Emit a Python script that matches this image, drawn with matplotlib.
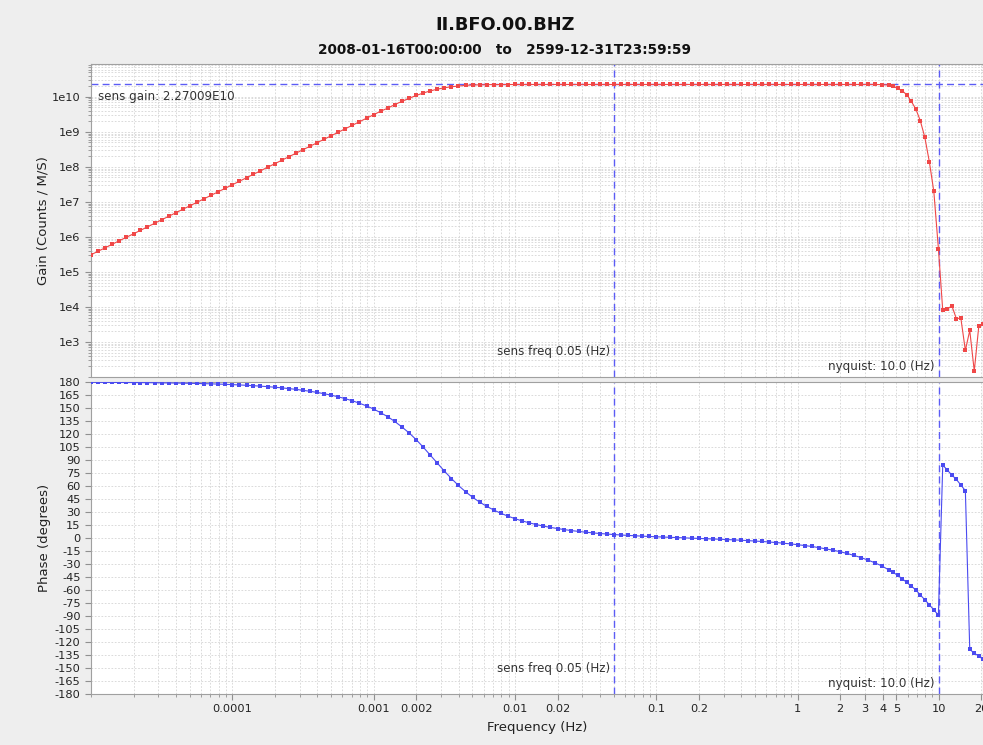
import matplotlib
matplotlib.use("Agg")
import matplotlib.pyplot as plt
from matplotlib.ticker import FixedLocator, FixedFormatter, LogLocator, NullFormatter
import numpy as np

plt.rcParams['font.family'] = ['DejaVu Sans']

# frequencies of the response points (Hz)
freq_hz = [
    1.00e-5, 1.12e-5, 1.26e-5, 1.41e-5, 1.58e-5, 1.78e-5, 2.00e-5, 2.24e-5, 2.51e-5, 2.82e-5,
    3.16e-5, 3.55e-5, 3.98e-5, 4.47e-5, 5.01e-5, 5.62e-5, 6.31e-5, 7.08e-5, 7.94e-5, 8.91e-5,
    1.00e-4, 1.12e-4, 1.26e-4, 1.41e-4, 1.58e-4, 1.78e-4, 2.00e-4, 2.24e-4, 2.51e-4, 2.82e-4,
    3.16e-4, 3.55e-4, 3.98e-4, 4.47e-4, 5.01e-4, 5.62e-4, 6.31e-4, 7.08e-4, 7.94e-4, 8.91e-4,
    1.00e-3, 1.12e-3, 1.26e-3, 1.41e-3, 1.58e-3, 1.78e-3, 2.00e-3, 2.24e-3, 2.51e-3, 2.82e-3,
    3.16e-3, 3.55e-3, 3.98e-3, 4.47e-3, 5.01e-3, 5.62e-3, 6.31e-3, 7.08e-3, 7.94e-3, 8.91e-3,
    1.00e-2, 1.12e-2, 1.26e-2, 1.41e-2, 1.58e-2, 1.78e-2, 2.00e-2, 2.24e-2, 2.51e-2, 2.82e-2,
    3.16e-2, 3.55e-2, 3.98e-2, 4.47e-2, 5.01e-2, 5.62e-2, 6.31e-2, 7.08e-2, 7.94e-2, 8.91e-2,
    1.00e-1, 1.12e-1, 1.26e-1, 1.41e-1, 1.58e-1, 1.78e-1, 2.00e-1, 2.24e-1, 2.51e-1, 2.82e-1,
    3.16e-1, 3.55e-1, 3.98e-1, 4.47e-1, 5.01e-1, 5.62e-1, 6.31e-1, 7.08e-1, 7.94e-1, 8.91e-1,
    1.00, 1.12, 1.26, 1.41, 1.58, 1.78, 2.00, 2.24, 2.51, 2.82, 3.16, 3.55, 3.98,
    4.42, 4.75, 5.12, 5.51, 5.93, 6.38, 6.87, 7.38, 7.94, 8.55, 9.20, 9.91,
    10.64, 11.46, 12.33, 13.27, 14.29, 15.38, 16.52, 17.78, 19.14, 20.4,
]

# log10 of gain (counts / m/s)
gain_log10 = [
    5.49, 5.59, 5.69, 5.79, 5.89, 5.99, 6.09, 6.19, 6.29, 6.39,
    6.49, 6.59, 6.69, 6.79, 6.89, 6.99, 7.09, 7.19, 7.29, 7.39,
    7.49, 7.59, 7.69, 7.79, 7.89, 7.99, 8.09, 8.19, 8.29, 8.39,
    8.49, 8.59, 8.69, 8.79, 8.89, 8.99, 9.09, 9.19, 9.29, 9.39,
    9.49, 9.59, 9.68, 9.78, 9.87, 9.96, 10.04, 10.11, 10.17, 10.22,
    10.26, 10.29, 10.31, 10.33, 10.34, 10.345, 10.35, 10.35, 10.353, 10.354,
    10.355, 10.355, 10.355, 10.355, 10.355, 10.355, 10.355, 10.355, 10.355, 10.355,
    10.355, 10.355, 10.355, 10.355, 10.355, 10.355, 10.355, 10.355, 10.355, 10.355,
    10.356, 10.356, 10.356, 10.356, 10.356, 10.356, 10.356, 10.356, 10.356, 10.356,
    10.356, 10.356, 10.356, 10.356, 10.356, 10.356, 10.356, 10.356, 10.356, 10.356,
    10.356, 10.356, 10.356, 10.356, 10.356, 10.356, 10.356, 10.356, 10.356, 10.356,
    10.356, 10.355, 10.35,
    10.34, 10.30, 10.24, 10.17, 10.06, 9.87, 9.65, 9.32, 8.85, 8.15, 7.30, 5.67,
    3.90, 3.93, 4.04, 3.67, 3.68, 2.76, 3.33, 2.17, 3.45, 3.52,
]

# phase (degrees)
phase_deg = [
    179.70, 179.66, 179.62, 179.58, 179.52, 179.47, 179.40, 179.33, 179.25, 179.15,
    179.05, 178.94, 178.81, 178.66, 178.50, 178.31, 178.11, 177.88, 177.62, 177.33,
    177.00, 176.63, 176.21, 175.75, 175.23, 174.65, 174.00, 173.26, 172.43, 171.51,
    170.47, 169.29, 167.97, 166.48, 164.79, 162.89, 160.72, 158.30, 155.51, 152.37,
    148.75, 144.60, 139.88, 134.47, 128.29, 121.30, 113.47, 104.93, 95.83, 86.53,
    77.35, 68.63, 60.61, 53.40, 47.02, 41.42, 36.53, 32.25, 28.52, 25.25,
    22.30, 19.77, 17.53, 15.56, 13.81, 12.25, 10.87, 9.65, 8.54, 7.57,
    6.68, 5.90, 5.19, 4.55, 3.98, 3.45, 2.98, 2.54, 2.14, 1.75,
    1.41, 1.07, 0.76, 0.45, 0.14, -0.16, -0.46, -0.77, -1.10, -1.43,
    -1.79, -2.16, -2.57, -3.02, -3.49, -4.03, -4.61, -5.26, -5.98, -6.78,
    -7.68, -8.68, -9.80, -11.06, -12.47, -14.07, -15.85, -17.86, -20.14, -22.69,
    -25.59, -28.87, -32.58,
    -36.9, -39.8, -43.2, -47.3, -51.3, -55.7, -60.0, -65.7, -71.2, -77.0, -83.0, -89.0,
    84.2, 78.5, 72.7, 67.7, 61.2, 54.6, -128.4, -133.0, -136.0, -140.0,
]

sens_gain = 2.27009e10
sens_freq = 0.05
nyquist = 10.0

freq_ticks = [0.0001, 0.001, 0.002, 0.01, 0.02, 0.1, 0.2, 1, 2, 3, 4, 5, 10, 20]
freq_labels = ['0.0001', '0.001', '0.002', '0.01', '0.02', '0.1', '0.2',
               '1', '2', '3', '4', '5', '10', '20']
gain_ticks = [1e3, 1e4, 1e5, 1e6, 1e7, 1e8, 1e9, 1e10]
gain_labels = ['1e3', '1e4', '1e5', '1e6', '1e7', '1e8', '1e9', '1e10']
phase_ticks = list(range(-180, 181, 15))

gain = 10 ** np.array(gain_log10)

W, H = 983, 745
fig = plt.figure(figsize=(W / 100, H / 100), dpi=100, facecolor='#eeeeee')
ax1 = fig.add_axes([91 / W, 1 - 377 / H, 892 / W, (377 - 64) / H])
ax2 = fig.add_axes([91 / W, 1 - 694 / H, 892 / W, (694 - 382) / H])

red = '#f04848'
blue = '#4b4bf0'
ref_blue = '#5c5cf5'
grid_kw = dict(color='#d4d4d4', linestyle=(0, (2, 2)), linewidth=0.6)
txt_color = '#333333'

for ax in (ax1, ax2):
    ax.set_xscale('log')
    ax.set_xlim(1e-5, 20.5)
    ax.set_facecolor('white')
    for s in ax.spines.values():
        s.set_color('#a0a0a0')
        s.set_linewidth(0.8)
    ax.xaxis.set_major_locator(FixedLocator(freq_ticks))
    ax.xaxis.set_minor_locator(LogLocator(base=10, subs=np.arange(1, 10), numticks=50))
    ax.xaxis.set_minor_formatter(NullFormatter())
    ax.grid(True, which='both', axis='x', **grid_kw)
    ax.tick_params(which='both', direction='out', color='#909090', labelsize=8.2,
                   labelcolor='#222222')
    ax.tick_params(which='major', length=4)
    ax.tick_params(which='minor', length=2.5)
    ax.axvline(sens_freq, color=ref_blue, linestyle=(0, (5, 3)), linewidth=1)
    ax.axvline(nyquist, color=ref_blue, linestyle=(0, (5, 3)), linewidth=1)
    ax.annotate('sens freq 0.05 (Hz)', xy=(sens_freq, 0.083), xycoords=('data', 'axes fraction'),
                xytext=(-4, 0), textcoords='offset pixels', ha='right', va='center',
                fontsize=8.6, color=txt_color)
    ax.annotate('nyquist: 10.0 (Hz)', xy=(nyquist, 0.035), xycoords=('data', 'axes fraction'),
                xytext=(-4, 0), textcoords='offset pixels', ha='right', va='center',
                fontsize=8.6, color=txt_color)

# gain
ax1.plot(freq_hz, gain, color=red, linewidth=0.8, marker='s', markersize=2.4,
         markeredgewidth=0, zorder=3)
ax1.axhline(sens_gain, color=ref_blue, linestyle=(0, (5, 3)), linewidth=1)
ax1.set_yscale('log')
ax1.set_ylim(100, 8.7e10)
ax1.yaxis.set_major_locator(FixedLocator(gain_ticks))
ax1.yaxis.set_major_formatter(FixedFormatter(gain_labels))
ax1.yaxis.set_minor_locator(LogLocator(base=10, subs=np.arange(1, 10), numticks=50))
ax1.yaxis.set_minor_formatter(NullFormatter())
ax1.grid(True, which='both', axis='y', **grid_kw)
ax1.tick_params(axis='x', which='both', bottom=False, labelbottom=False)
ax1.set_ylabel('Gain (Counts / M/S)', fontsize=9.5, color='#222222', labelpad=2)
ax1.text(7 / 892, 0.8946, 'sens gain: 2.27009E10', transform=ax1.transAxes,
         ha='left', va='center', fontsize=8.6, color=txt_color)

# phase
ax2.plot(freq_hz, phase_deg, color=blue, linewidth=0.8, marker='s', markersize=2.4,
         markeredgewidth=0, zorder=3)
ax2.set_ylim(-180, 180)
ax2.yaxis.set_major_locator(FixedLocator(phase_ticks))
ax2.yaxis.set_major_formatter(FixedFormatter([str(v) for v in phase_ticks]))
ax2.grid(True, which='major', axis='y', **grid_kw)
ax2.xaxis.set_major_formatter(FixedFormatter(freq_labels))
ax2.set_ylabel('Phase (degrees)', fontsize=9.5, color='#222222', labelpad=3)
ax2.set_xlabel('Frequency (Hz)', fontsize=9.5, color='#222222', labelpad=5)

fig.text(505 / W, 1 - 25 / H, 'II.BFO.00.BHZ', ha='center', va='center',
         fontsize=12.8, fontweight='bold', color='#111111')
fig.text(505 / W, 1 - 50 / H, '2008-01-16T00:00:00   to   2599-12-31T23:59:59',
         ha='center', va='center', fontsize=9.8, fontweight='bold', color='#111111')

fig.savefig('out.png', dpi=100, facecolor=fig.get_facecolor())
